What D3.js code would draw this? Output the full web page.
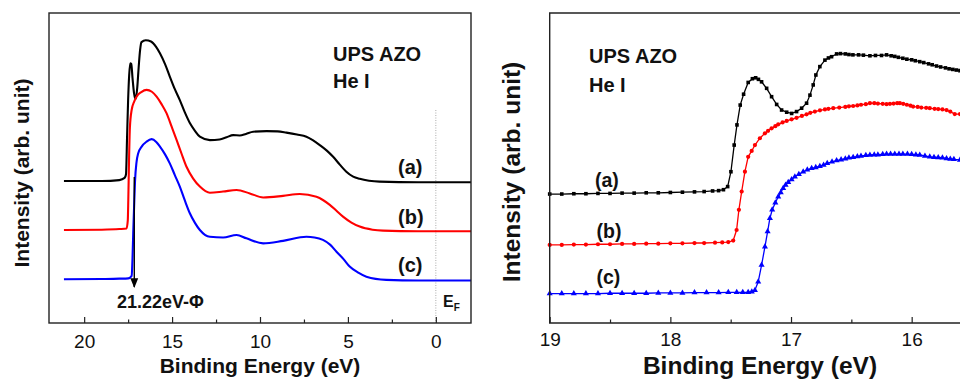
<!DOCTYPE html>
<html>
<head>
<meta charset="utf-8">
<script src="https://cdn.jsdelivr.net/npm/d3@7"></script>
<style>
  body { margin: 0; background: #fff; }
  svg { display: block; font-family: "Liberation Sans", Arial, sans-serif; }
</style>
</head>
<body>
<svg id="vis" width="960" height="380"></svg>
<script>
// wide scan, [binding energy eV, intensity arb.]
var wideA = [[21.15,45.8],[19.0,45.8],[18.0,46.1],[17.7,46.8],[17.62,48],[17.56,60],[17.5,72],[17.44,80],[17.38,83.8],[17.32,83.6],[17.25,79],[17.16,74],[17.07,72.2],[16.98,76],[16.9,82.5],[16.82,88],[16.74,90.6],[16.5,91.2],[16.2,90.8],[15.9,89],[15.69,87],[15.4,83.5],[15.13,79.5],[14.85,75.5],[14.56,71.9],[14.28,68],[13.99,64.5],[13.7,62],[13.42,60.1],[12.85,59.0],[12.3,59.2],[11.9,59.9],[11.53,60.6],[11.15,60.5],[10.8,61.0],[10.39,61.7],[9.63,61.9],[9.0,61.8],[8.5,61.4],[7.9,60.8],[7.36,60.1],[7.0,59.0],[6.6,57.4],[6.2,55.6],[5.84,53.6],[5.45,51],[5.09,48.8],[4.7,47.2],[4.33,46.5],[3.8,45.9],[3.2,45.6],[1,45.4],[-2,45.4]];
var wideB = [[21.15,30.0],[19.0,30.1],[18.0,30.3],[17.59,30.5],[17.52,33],[17.49,39.7],[17.45,52],[17.4,63],[17.3,68.7],[17.15,71.5],[17.02,73.0],[16.75,74.5],[16.45,75.2],[16.15,74.6],[15.88,73.0],[15.6,70.6],[15.31,67.6],[15.03,63.4],[14.74,59.0],[14.46,54.6],[14.18,50.4],[13.8,46.6],[13.42,44.0],[12.85,42.0],[12.1,42.4],[11.33,42.9],[10.58,41.8],[9.82,40.5],[8.69,41.0],[7.74,41.6],[6.79,40.7],[6.4,39.6],[6.03,38.1],[5.65,36.2],[5.28,34.3],[4.8,32.4],[4.33,31.1],[3.6,30.1],[3.0,29.8],[1.0,29.6],[-2,29.6]];
var wideC = [[21.15,14.1],[19.0,14.2],[18.0,14.3],[17.49,14.4],[17.3,15.2],[17.25,21],[17.21,29.0],[17.16,37.5],[17.11,45.5],[17.02,52.0],[16.93,54.7],[16.73,56.9],[16.45,58.5],[16.16,59.3],[15.9,58.4],[15.69,56.9],[15.4,54.4],[15.13,51.5],[14.85,47.8],[14.56,44.0],[14.28,39.6],[13.99,35.4],[13.7,32.3],[13.42,30.0],[12.85,27.8],[12.1,27.6],[11.33,28.4],[10.77,27.3],[9.82,25.7],[8.69,26.5],[7.36,27.8],[6.9,27.6],[6.42,26.8],[6.0,25.2],[5.65,23.0],[5.25,20.6],[4.9,18.2],[4.4,16.2],[3.95,14.9],[2.82,13.9],[1,13.7],[-2,13.7]];

// cutoff region zoom
var edgeA = [[19.0,41.6],[18.9,41.6],[18.8,41.7],[18.7,41.7],[18.6,41.8],[18.5,41.8],[18.4,41.9],[18.3,41.9],[18.2,42.0],[18.1,42.0],[18.0,42.1],[17.9,42.2],[17.8,42.3],[17.72,42.4],[17.65,42.6],[17.6,42.7],[17.56,43.0],[17.525,44.0],[17.498,48.8],[17.471,57.4],[17.448,63.9],[17.421,70.3],[17.393,73.8],[17.355,77.6],[17.32,78.8],[17.293,79.1],[17.27,78.6],[17.244,77.8],[17.202,75.7],[17.161,73.0],[17.119,70.5],[17.078,68.7],[17.036,68.0],[16.995,67.6],[16.954,68.2],[16.912,69.3],[16.871,70.9],[16.843,73.5],[16.816,76.8],[16.794,80.0],[16.761,82.7],[16.719,84.8],[16.69,85.5],[16.664,85.9],[16.622,86.8],[16.59,86.9],[16.55,86.8],[16.52,86.6],[16.487,86.5],[16.44,86.5],[16.4,86.4],[16.346,86.2],[16.3,86.3],[16.25,86.3],[16.208,86.5],[16.17,86.2],[16.14,86.0],[16.11,85.7],[16.073,85.4],[16.04,85.1],[16.0,84.9],[15.97,84.6],[15.933,84.3],[15.9,84.0],[15.86,83.6],[15.83,83.3],[15.794,82.9],[15.76,82.6],[15.72,82.3],[15.69,82.0],[15.659,81.8],[15.63,81.6],[15.6,81.4],[15.55,81.0],[15.5,80.6]];
var edgeB = [[19.0,25.2],[18.9,25.2],[18.8,25.3],[18.7,25.3],[18.6,25.4],[18.5,25.4],[18.4,25.5],[18.3,25.5],[18.2,25.6],[18.1,25.6],[18.0,25.7],[17.9,25.7],[17.8,25.8],[17.72,25.8],[17.63,25.9],[17.57,26.0],[17.52,26.1],[17.479,26.6],[17.451,30.0],[17.432,36.5],[17.409,42.4],[17.382,48.8],[17.355,53.6],[17.326,55.5],[17.299,57.4],[17.258,59.6],[17.216,61.2],[17.19,62.0],[17.161,62.8],[17.13,63.5],[17.106,64.1],[17.07,64.7],[17.036,65.2],[16.995,65.7],[16.954,66.2],[16.91,66.8],[16.871,67.3],[16.84,67.8],[16.802,68.2],[16.76,68.6],[16.719,68.9],[16.69,69.1],[16.65,69.3],[16.6,69.5],[16.55,69.7],[16.52,69.9],[16.485,70.0],[16.45,70.2],[16.42,70.4],[16.38,70.6],[16.346,70.9],[16.31,70.9],[16.28,70.8],[16.24,70.7],[16.208,70.6],[16.18,70.7],[16.15,70.8],[16.12,70.9],[16.098,70.9],[16.07,70.7],[16.04,70.4],[16.01,70.1],[15.988,69.8],[15.95,69.7],[15.92,69.5],[15.88,69.4],[15.85,69.3],[15.81,69.1],[15.78,69.0],[15.745,68.9],[15.711,68.7],[15.68,68.2],[15.643,67.4],[15.6,67.4],[15.55,67.2],[15.5,67.0]];
var edgeC = [[19.0,9.5],[18.9,9.5],[18.8,9.5],[18.7,9.5],[18.6,9.5],[18.5,9.6],[18.4,9.6],[18.3,9.6],[18.2,9.6],[18.1,9.7],[18.0,9.7],[17.9,9.7],[17.8,9.8],[17.7,9.8],[17.6,9.8],[17.52,9.9],[17.45,9.9],[17.4,9.9],[17.355,9.9],[17.325,10.1],[17.299,10.6],[17.272,13.3],[17.244,18.7],[17.216,24.6],[17.194,29.5],[17.175,33.8],[17.156,36.5],[17.13,38.8],[17.106,40.7],[17.085,42.1],[17.065,43.5],[17.045,44.5],[17.023,45.4],[16.995,46.3],[16.968,47.2],[16.935,48.0],[16.899,48.8],[16.865,49.4],[16.829,49.9],[16.795,50.2],[16.761,50.6],[16.73,51.0],[16.7,51.5],[16.66,52.0],[16.622,52.4],[16.585,52.7],[16.55,53.0],[16.52,53.3],[16.485,53.5],[16.45,53.7],[16.42,53.9],[16.38,54.1],[16.346,54.2],[16.31,54.3],[16.28,54.3],[16.24,54.4],[16.208,54.5],[16.175,54.5],[16.14,54.5],[16.105,54.5],[16.073,54.5],[16.035,54.5],[16.0,54.4],[15.965,54.3],[15.933,54.2],[15.89,53.9],[15.85,53.6],[15.815,53.5],[15.78,53.4],[15.745,53.3],[15.711,53.1],[15.68,52.9],[15.65,52.8],[15.6,52.6],[15.55,52.4],[15.5,52.2]];

var wideTicks = [20, 15, 10, 5, 0];
var wideMinor = [17.5, 12.5, 7.5, 2.5];
var edgeTicks = [19, 18, 17, 16];
var edgeMinor = [18.5, 17.5, 16.5];
var sampleLabels = ["(a)", "(b)", "(c)"];
var colors = ["#000000", "#ff0000", "#0000ff"];

var svg = d3.select("#vis");
var plotTop = 13, plotBottom = 323;

function drawAxis(g, x, major, minor, pad) {
	g.append("g")
		.attr("transform", "translate(0," + plotBottom + ")")
		.call(d3.axisBottom(x).tickValues(major).tickFormat(d3.format("d"))
			.tickSizeInner(-6).tickSizeOuter(0).tickPadding(pad))
		.call(function(a){ a.select(".domain").remove(); })
		.call(function(a){
			a.selectAll("line").attr("stroke", "#222").attr("stroke-width", 1.2);
			a.selectAll("text").attr("font-size", 19).attr("fill", "#111")
				.attr("font-family", "'Liberation Sans', Arial, sans-serif");
		});
	g.append("g")
		.attr("transform", "translate(0," + plotBottom + ")")
		.call(d3.axisBottom(x).tickValues(minor).tickFormat("")
			.tickSizeInner(-3.5).tickSizeOuter(0))
		.call(function(a){ a.select(".domain").remove(); })
		.selectAll("line").attr("stroke", "#222").attr("stroke-width", 1.2);
}

// ---------- left panel: wide scan ----------
var xL = d3.scaleLinear().domain([22, -2]).range([49, 471]);
var y = d3.scaleLinear().domain([0, 100]).range([plotBottom, plotTop]);
var left = svg.append("g");

left.append("line")
	.attr("x1", xL(0)).attr("x2", xL(0))
	.attr("y1", y(68.7)).attr("y2", plotBottom)
	.attr("stroke", "#aaa").attr("stroke-width", 1).attr("stroke-dasharray", "1,1.5");

var lineL = d3.line().x(function(d){ return xL(d[0]); }).y(function(d){ return y(d[1]); })
	.curve(d3.curveMonotoneX);
[wideA, wideB, wideC].forEach(function(s, i) {
	left.append("path").datum(s)
		.attr("d", lineL).attr("fill", "none")
		.attr("stroke", colors[i]).attr("stroke-width", 2.1);
});

// arrow at the cutoff
var defs = svg.append("defs");
defs.append("marker").attr("id", "arrow")
	.attr("viewBox", "0 0 10 10").attr("refX", 9).attr("refY", 5)
	.attr("markerWidth", 7).attr("markerHeight", 7).attr("orient", "auto")
	.append("path").attr("d", "M0,1 L10,5 L0,9 Z").attr("fill", "#000");
left.append("line")
	.attr("x1", xL(17.15)).attr("x2", xL(17.15))
	.attr("y1", y(47.1)).attr("y2", y(11.6))
	.attr("stroke", "#000").attr("stroke-width", 1.4)
	.attr("marker-end", "url(#arrow)");

left.append("rect")
	.attr("x", 49).attr("y", plotTop).attr("width", 422).attr("height", plotBottom - plotTop)
	.attr("fill", "none").attr("stroke", "#222").attr("stroke-width", 1.4);
drawAxis(left, xL, wideTicks, wideMinor, 11.5);

var bold = function(sel){ return sel.attr("font-weight", "bold").attr("fill", "#111"); };
bold(left.append("text").attr("x", 333).attr("y", 61).attr("font-size", 20).text("UPS AZO"));
bold(left.append("text").attr("x", 333).attr("y", 88).attr("font-size", 20).text("He I"));
[174, 223.5, 272].forEach(function(yy, i) {
	bold(left.append("text").attr("x", 398).attr("y", yy).attr("font-size", 20).text(sampleLabels[i]));
});
bold(left.append("text").attr("x", 117).attr("y", 308).attr("font-size", 18).text("21.22eV-\u03A6"));
var ef = bold(left.append("text").attr("x", 443).attr("y", 307).attr("font-size", 16));
ef.append("tspan").text("E");
ef.append("tspan").attr("font-size", 10).attr("dy", 4).text("F");
bold(left.append("text").attr("x", 260).attr("y", 373).attr("text-anchor", "middle")
	.attr("font-size", 21).text("Binding Energy (eV)"));
bold(left.append("text").attr("transform", "translate(29,173) rotate(-90)")
	.attr("text-anchor", "middle").attr("font-size", 21).text("Intensity (arb. unit)"));

// ---------- right panel: cutoff zoom ----------
var xR = d3.scaleLinear().domain([19, 15.5]).range([549.7, 972]);
var right = svg.append("g");
var lineR = d3.line().x(function(d){ return xR(d[0]); }).y(function(d){ return y(d[1]); });
var symbols = [d3.symbolSquare, d3.symbolCircle, d3.symbolTriangle];
var sizes = [13, 14, 16];
[edgeA, edgeB, edgeC].forEach(function(s, i) {
	right.append("path").datum(s)
		.attr("d", lineR).attr("fill", "none")
		.attr("stroke", colors[i]).attr("stroke-width", 1.3);
	right.selectAll(".m" + i).data(s).enter().append("path")
		.attr("class", "m" + i)
		.attr("transform", function(d){ return "translate(" + xR(d[0]) + "," + y(d[1]) + ")"; })
		.attr("d", d3.symbol().type(symbols[i]).size(sizes[i]))
		.attr("fill", colors[i]);
});
right.append("path")
	.attr("d", "M972," + plotTop + "H549.7V" + plotBottom + "H972")
	.attr("fill", "none").attr("stroke", "#222").attr("stroke-width", 1.4);
drawAxis(right, xR, edgeTicks, edgeMinor, 9.5);

bold(right.append("text").attr("x", 589).attr("y", 63).attr("font-size", 20).text("UPS AZO"));
bold(right.append("text").attr("x", 589).attr("y", 91.5).attr("font-size", 20).text("He I"));
[187, 237.5, 284].forEach(function(yy, i) {
	bold(right.append("text").attr("x", 595 + (i ? 1.5 : 0)).attr("y", yy).attr("font-size", 19.5).text(sampleLabels[i]));
});
bold(right.append("text").attr("x", 760).attr("y", 374).attr("text-anchor", "middle")
	.attr("font-size", 24.5).text("Binding Energy (eV)"));
bold(right.append("text").attr("transform", "translate(520,172) rotate(-90)")
	.attr("text-anchor", "middle").attr("font-size", 24.5).text("Intensity (arb. unit)"));
</script>
</body>
</html>
